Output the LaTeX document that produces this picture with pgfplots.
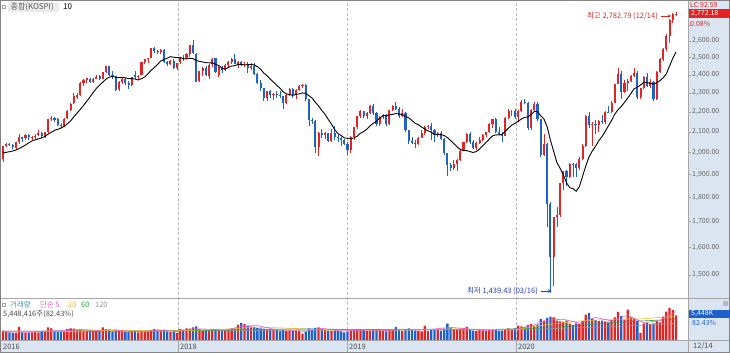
\documentclass[border=0pt]{standalone}
\usepackage{pgfplots}
\pgfplotsset{compat=1.18}
\usepackage{pgfplotstable}
\usepackage{fontspec}
\setmainfont{Noto Sans CJK KR}
\usetikzlibrary{arrows.meta}

\definecolor{upred}{RGB}{226,36,36}
\definecolor{dnblue}{RGB}{30,96,204}
\definecolor{stripbg}{RGB}{219,229,241}
\definecolor{framec}{RGB}{165,165,165}
\definecolor{hiRed}{RGB}{214,40,40}
\definecolor{loBlue}{RGB}{40,60,200}
\definecolor{volteal}{RGB}{50,160,175}
\definecolor{maf}{RGB}{225,95,200}
\definecolor{mat}{RGB}{232,188,40}
\definecolor{mas}{RGB}{50,160,70}
\definecolor{mah}{RGB}{150,150,150}

% weekly KOSPI: open high low close volume(million shares) 10-week MA
\pgfplotstableread{
o h l c v ma
1971 2032 1958 2031 2100 1998
2031 2045 2025 2042 1900 2001
2042 2047 2030 2035 1700 2004
2035 2040 2015 2026 1600 2007
2022 2050 2015 2049 1600 2012
2050 2088 2040 2076 2900 2019
2073 2075 2052 2065 1700 2027
2068 2090 2060 2083 1600 2036
2083 2088 2060 2073 1600 2046
2070 2080 2058 2075 1700 2055.5
2077 2090 2065 2080 1800 2060.4
2082 2108 2078 2094 1700 2065.6
2094 2098 2068 2078 1800 2069.9
2076 2100 2070 2097 1900 2077.0
2098 2166 2095 2164 2800 2088.5
2165 2178 2155 2168 2600 2097.7
2168 2172 2150 2160 2000 2107.2
2162 2170 2130 2133 1900 2112.2
2135 2145 2120 2134 1800 2118.3
2130 2170 2125 2165 1900 2127.3
2170 2210 2165 2205 2400 2139.8
2210 2245 2205 2241 2600 2154.5
2245 2300 2240 2286 2500 2175.3
2280 2300 2270 2288 2200 2194.4
2290 2360 2285 2355 2300 2213.5
2355 2375 2340 2371 2100 2233.8
2370 2382 2355 2381 2100 2255.9
2378 2385 2355 2361 2200 2278.7
2362 2383 2355 2378 2000 2303.1
2380 2402 2375 2391 2100 2325.7
2392 2400 2370 2379 2000 2343.1
2380 2415 2378 2414 2800 2360.4
2416 2452 2410 2450 2400 2376.8
2452 2453 2395 2400 2300 2388.0
2400 2420 2380 2395 1900 2392.0
2394 2397 2310 2319 2300 2386.8
2320 2365 2310 2358 2100 2384.5
2358 2385 2350 2378 1900 2386.2
2380 2385 2345 2357 1800 2384.1
2355 2365 2320 2343 1800 2379.3
2345 2390 2340 2386 1900 2380.0
2400 2425 2380 2388 2000 2377.4
2390 2400 2370 2394 1700 2371.8
2400 2475 2398 2473 1900 2379.1
2475 2490 2460 2489 1800 2388.5
2490 2500 2470 2496 1900 2406.2
2500 2560 2495 2557 2200 2426.1
2557 2561 2530 2542 2400 2442.5
2540 2545 2520 2534 2300 2460.2
2535 2550 2520 2544 2100 2480.3
2545 2550 2470 2475 2300 2489.2
2475 2478 2450 2464 1900 2496.8
2465 2485 2455 2482 1800 2505.6
2482 2490 2435 2440 1900 2502.3
2440 2470 2430 2467 1600 2500.1
2474 2500 2465 2497 2400 2500.2
2500 2515 2480 2496 2300 2494.1
2497 2525 2490 2520 2600 2491.9
2520 2575 2505 2574 2500 2495.9
2575 2607 2520 2525 2800 2494.0
2520 2525 2360 2363 3000 2482.8
2365 2425 2360 2421 2400 2478.5
2420 2445 2395 2440 2000 2474.3
2440 2450 2395 2402 2300 2470.5
2395 2460 2380 2459 2200 2469.7
2460 2495 2445 2494 2400 2469.4
2495 2500 2410 2416 2300 2461.4
2400 2450 2390 2445 2200 2453.9
2445 2450 2410 2429 2100 2439.4
2430 2460 2420 2455 2200 2432.4
2455 2480 2445 2476 2300 2443.7
2476 2495 2460 2492 2400 2450.8
2492 2520 2460 2461 2600 2452.9
2461 2480 2440 2477 3400 2460.4
2477 2480 2450 2460 3800 2460.5
2460 2475 2445 2460 3500 2457.1
2460 2475 2410 2438 3200 2459.3
2440 2470 2430 2451 3000 2459.9
2451 2470 2400 2404 2900 2457.4
2404 2410 2350 2357 2700 2447.6
2357 2370 2310 2326 2600 2432.6
2326 2330 2260 2272 2500 2410.6
2272 2310 2260 2310 2400 2395.5
2310 2315 2275 2289 2300 2376.7
2289 2300 2265 2294 2200 2360.1
2294 2310 2275 2287 2300 2342.8
2287 2310 2275 2282 2100 2327.2
2282 2285 2218 2248 2200 2306.9
2248 2295 2240 2290 2000 2295.5
2290 2325 2285 2322 2100 2292.0
2322 2330 2275 2287 2000 2288.1
2287 2320 2270 2318 2100 2292.7
2318 2345 2310 2339 2000 2295.6
2339 2350 2330 2343 1400 2301.0
2343 2350 2260 2267 1900 2298.3
2267 2270 2130 2161 2600 2285.7
2161 2170 2140 2156 2500 2273.1
2156 2160 2000 2027 2700 2251.0
2027 2100 1985 2096 2800 2231.6
2096 2115 2070 2086 2400 2208.0
2086 2100 2065 2092 2200 2188.5
2092 2095 2050 2057 2100 2162.4
2057 2115 2050 2096 2000 2138.1
2096 2130 2060 2075 2100 2111.3
2075 2085 2050 2069 2000 2091.5
2069 2075 2030 2061 1900 2081.5
2061 2065 2035 2041 1700 2070.0
2041 2050 1990 2010 1900 2068.3
2010 2080 2000 2075 2100 2066.2
2075 2125 2060 2124 2200 2070.0
2124 2180 2115 2177 2300 2078.5
2177 2210 2170 2203 2400 2093.1
2203 2205 2170 2177 2200 2101.2
2177 2200 2165 2196 2000 2113.3
2196 2235 2190 2230 2100 2129.4
2230 2240 2185 2195 2300 2142.8
2195 2200 2130 2137 2100 2152.4
2137 2180 2130 2176 2200 2169.0
2176 2190 2165 2186 2000 2180.1
2186 2190 2130 2140 1900 2181.7
2140 2210 2135 2209 2300 2184.9
2209 2235 2205 2233 2200 2187.9
2233 2250 2210 2216 2900 2191.8
2216 2225 2170 2179 2200 2190.1
2179 2215 2175 2196 2000 2186.7
2196 2200 2100 2108 2400 2178.0
2108 2110 2040 2055 2600 2169.8
2055 2075 2040 2045 2300 2156.7
2045 2060 2020 2041 2100 2142.2
2041 2075 2035 2072 2000 2135.4
2072 2110 2070 2095 1900 2124.0
2095 2130 2085 2125 3100 2113.2
2125 2135 2115 2130 2000 2104.6
2130 2145 2060 2110 2200 2097.7
2110 2115 2050 2086 2300 2086.7
2086 2100 2075 2094 2400 2085.3
2094 2105 2060 2066 2100 2086.4
2066 2070 1990 1998 2500 2081.7
1998 2000 1891 1943 3600 2071.9
1943 1950 1915 1927 2700 2057.4
1927 1965 1920 1948 2400 2042.7
1948 1970 1915 1967 2300 2026.9
1967 2010 1960 2009 2500 2014.8
2009 2050 2005 2049 2600 2008.7
2049 2095 2045 2091 2900 2009.2
2091 2100 2040 2049 2400 2004.7
2049 2060 2015 2021 2100 2000.2
2021 2050 2010 2044 2000 2004.8
2044 2075 2040 2060 2200 2016.5
2060 2090 2055 2083 2100 2032.1
2083 2100 2075 2100 2000 2047.3
2100 2145 2095 2137 2300 2064.3
2137 2165 2120 2162 2400 2079.6
2162 2170 2095 2101 2200 2084.8
2101 2125 2085 2087 2100 2084.4
2087 2100 2050 2081 2100 2087.6
2081 2172 2078 2170 2400 2102.5
2170 2215 2165 2204 2600 2118.5
2204 2210 2180 2204 2300 2132.9
2204 2215 2165 2176 2600 2142.2
2176 2210 2150 2206 3200 2152.8
2206 2265 2200 2250 3000 2164.1
2250 2268 2240 2246 2800 2172.5
2246 2250 2110 2119 3300 2174.3
2119 2215 2110 2211 3500 2186.7
2211 2250 2200 2243 3100 2202.9
2243 2250 2155 2162 3400 2202.1
2162 2165 1980 1987 4600 2180.4
1987 2090 1985 2040 4300 2164.0
2040 2045 1680 1771 4900 2123.5
1771 1780 1439 1566 5200 2059.5
1566 1720 1460 1717 5000 2006.2
1717 1760 1680 1725 4300 1954.1
1725 1860 1720 1860 4100 1928.2
1860 1915 1830 1914 4000 1898.5
1914 1920 1850 1889 4300 1863.1
1889 1950 1885 1948 3600 1841.7
1948 1950 1890 1945 3300 1837.5
1945 1950 1890 1927 3700 1826.2
1927 1980 1920 1970 3500 1846.1
1970 2040 1965 2029 4200 1892.4
2029 2185 2025 2181 5600 1938.8
2181 2200 2120 2132 6000 1979.5
2132 2150 2030 2141 4800 2007.6
2141 2160 2090 2134 4400 2029.6
2134 2160 2100 2152 4200 2055.9
2152 2185 2140 2150 4300 2076.1
2150 2205 2140 2201 4100 2101.7
2201 2230 2195 2200 3900 2129.0
2200 2255 2195 2249 4400 2156.9
2249 2352 2245 2351 5000 2189.1
2351 2440 2350 2407 6200 2211.7
2407 2420 2270 2304 5300 2228.9
2304 2370 2300 2353 4500 2250.1
2353 2375 2310 2368 6700 2273.5
2368 2400 2360 2396 5000 2297.9
2396 2440 2390 2412 4700 2324.1
2412 2420 2270 2278 4300 2331.8
2278 2330 2270 2327 1600 2344.5
2327 2395 2320 2391 3700 2358.7
2391 2410 2335 2341 3800 2357.7
2341 2375 2330 2360 3500 2353.0
2360 2365 2260 2267 3700 2349.3
2267 2420 2265 2416 4200 2355.6
2416 2495 2410 2493 3900 2368.1
2493 2555 2480 2553 5200 2383.8
2553 2640 2540 2633 6300 2405.9
2633 2735 2590 2731 7100 2451.2
2731 2775 2715 2770 6609 2495.5
2768 2783 2755 2772 5448 2533.6
}\kospi

\def\wickup{}\def\wickdn{}\def\bodyup{}\def\bodydn{}\def\volup{}\def\voldn{}%
\pgfplotsforeachungrouped \i in {0,...,209}{%
  \pgfplotstablegetelem{\i}{o}\of\kospi\let\cO\pgfplotsretval
  \pgfplotstablegetelem{\i}{h}\of\kospi\let\cH\pgfplotsretval
  \pgfplotstablegetelem{\i}{l}\of\kospi\let\cL\pgfplotsretval
  \pgfplotstablegetelem{\i}{c}\of\kospi\let\cC\pgfplotsretval
  \pgfplotstablegetelem{\i}{v}\of\kospi\let\cV\pgfplotsretval
  \pgfmathtruncatemacro\isdn{\cC<\cO}%
  \ifnum\isdn=1
    \xdef\wickdn{\wickdn (\i,\cL) (\i,\cH) (\i,nan)}%
    \xdef\bodydn{\bodydn (\i,\cO) (\i,\cC) (\i,nan)}%
    \xdef\voldn{\voldn (\i,\cV)}%
  \else
    \xdef\wickup{\wickup (\i,\cL) (\i,\cH) (\i,nan)}%
    \xdef\bodyup{\bodyup (\i,\cO) (\i,\cC) (\i,nan)}%
    \xdef\volup{\volup (\i,\cV)}%
  \fi
}%

\pgfplotsset{
  wickup/.style={upred, line width=0.7bp, mark=none, unbounded coords=jump},
  wickdn/.style={dnblue, line width=0.7bp, mark=none, unbounded coords=jump},
  bodyup/.style={upred, line width=2.1bp, mark=none, unbounded coords=jump},
  bodydn/.style={dnblue, line width=2.1bp, mark=none, unbounded coords=jump},
  volup/.style={ybar, bar width=2.3bp, bar shift=0pt, fill=upred, draw=none},
  voldn/.style={ybar, bar width=2.3bp, bar shift=0pt, fill=dnblue, draw=none},
}
\edef\plotcandles{%
  \noexpand\addplot[wickup] coordinates {\wickup};%
  \noexpand\addplot[wickdn] coordinates {\wickdn};%
  \noexpand\addplot[bodyup] coordinates {\bodyup};%
  \noexpand\addplot[bodydn] coordinates {\bodydn};%
}
\edef\plotvolumes{%
  \noexpand\addplot[volup] coordinates {\volup};%
  \noexpand\addplot[voldn] coordinates {\voldn};%
}

\begin{document}
\begin{tikzpicture}
\useasboundingbox (0,0) rectangle (730bp,353bp);
\fill[white] (0,0) rectangle (730bp,353bp);
\fill[stripbg] (688bp,13bp) rectangle (730bp,353bp);
\fill[stripbg] (0,0) rectangle (730bp,13bp);
\foreach \xx in {178,347,516} {\draw[gray!55, densely dashed, line width=0.5bp] (\xx bp,13bp) -- (\xx bp,353bp);}

\begin{axis}[
  at={(0bp,55bp)}, anchor=south west, scale only axis,
  width=688bp, height=298bp,
  xmin=-0.93, xmax=212.73,
  ymode=log, ymin=1421, ymax=2863,
  axis line style={draw=none},
  xtick=\empty,
  ytick={1500,1600,1700,1800,1900,2000,2100,2200,2300,2400,2500,2600,2700},
  yticklabels={{1,500.00},{1,600.00},{1,700.00},{1,800.00},{1,900.00},{2,000.00},{2,100.00},{2,200.00},{2,300.00},{2,400.00},{2,500.00},{2,600.00},{}},
  yminorticks=false,
  ytick pos=right, yticklabel pos=right,
  tick align=outside, major tick length=3bp,
  ytick style={draw=gray!70, line width=0.5bp},
  yticklabel style={font=\fontsize{7}{8}\selectfont, text=black!60, inner sep=0pt, xshift=1bp},
]
\plotcandles
\addplot[black, line width=0.9bp, mark=none] table[x expr=\coordindex, y=ma] {\kospi};
\end{axis}

\begin{axis}[
  at={(0bp,13bp)}, anchor=south west, scale only axis,
  width=688bp, height=42bp,
  xmin=-0.93, xmax=212.73, ymin=0, ymax=9300,
  axis line style={draw=none}, xtick=\empty, ytick=\empty,
]
\plotvolumes
\addplot[mah, line width=0.6bp, mark=none] coordinates {(0,2000) (60,2050) (120,2350) (160,2300) (190,2950) (209,3700)};
\addplot[mas, line width=0.6bp, mark=none] coordinates {(0,1900) (30,1950) (60,2100) (90,2450) (120,2300) (150,2300) (170,2700) (190,3900) (209,4600)};
\addplot[mat, line width=0.6bp, mark=none] coordinates {(0,1850) (19,1850) (29,2100) (39,2100) (49,2000) (59,2150) (69,2400) (79,2850) (89,2600) (99,2200) (109,2200) (119,2150) (129,2250) (139,2450) (149,2350) (159,2250) (169,3400) (179,4200) (189,4600) (199,4700) (209,5300)};
\addplot[maf, line width=0.6bp, mark=none] coordinates {(0,1800) (4,1750) (9,1700) (14,2000) (19,2050) (24,2350) (29,2150) (34,2250) (39,1950) (44,1850) (49,2200) (54,1850) (59,2500) (64,2400) (69,2200) (74,3000) (79,3200) (84,2400) (89,2150) (94,1900) (99,2600) (104,2050) (109,2100) (114,2200) (119,2100) (124,2300) (129,2200) (134,2450) (139,2800) (144,2500) (149,2100) (154,2250) (159,2400) (164,3100) (169,4400) (174,4600) (179,3700) (184,5000) (189,4200) (194,5500) (199,3800) (204,4300) (209,6300)};
\end{axis}

% frame lines
\draw[framec, line width=0.5bp] (0,55bp) -- (730bp,55bp);
\draw[framec, line width=0.5bp] (0,13bp) -- (730bp,13bp);
\draw[framec, line width=0.5bp] (688bp,0) -- (688bp,353bp);
\foreach \xx in {178,347,516} {\draw[framec, line width=0.4bp] (\xx bp,0) -- (\xx bp,13bp);}
\draw[framec!80!black, line width=1bp] (0.5bp,0.5bp) rectangle (729.5bp,352.5bp);

% top-left legend
\fill[gray!15] (8bp,341bp) rectangle (59bp,351bp);
\draw[gray!70, line width=0.4bp] (2.3bp,344.3bp) rectangle (5.5bp,347.5bp);
\node[anchor=west, inner sep=0pt, font=\fontsize{8}{9}\selectfont, text=black!65] at (10.5bp,346bp) {종합(KOSPI)};
\node[anchor=west, inner sep=0pt, font=\fontsize{8}{9}\selectfont, text=black] at (63bp,346bp) {10};

% high / low annotations
\node[anchor=east, inner sep=0pt, font=\fontsize{7.5}{8}\selectfont, text=hiRed] at (658bp,337bp) {최고 2,782.79 (12/14)};
\draw[hiRed, line width=0.6bp, -{Stealth[length=3bp,width=3.5bp]}] (661bp,337bp) -- (671bp,337bp);
\node[anchor=east, inner sep=0pt, font=\fontsize{7.5}{8}\selectfont, text=loBlue] at (538bp,62bp) {최저 1,439.43 (03/16)};
\draw[loBlue, line width=0.6bp, -{Stealth[length=3bp,width=3.5bp]}] (541bp,62bp) -- (551bp,62bp);

% right strip top labels
\node[anchor=west, inner sep=0pt, font=\fontsize{7}{8}\selectfont, text=hiRed] at (690bp,348bp) {LC:92.59};
\fill[upred] (689bp,334.5bp) rectangle (729.5bp,343.5bp);
\node[anchor=west, inner sep=0pt, font=\fontsize{7}{8}\selectfont, text=white] at (691bp,339bp) {2,772.18};
\node[anchor=west, inner sep=0pt, font=\fontsize{7}{8}\selectfont, text=hiRed] at (690bp,329.5bp) {0.08\%};

% volume legend
\draw[gray!70, line width=0.4bp] (2.5bp,46.5bp) rectangle (5.5bp,49.5bp);
\node[anchor=west, inner sep=0pt, font=\fontsize{7.5}{8}\selectfont, text=volteal] at (10bp,48bp) {거래량};
\node[anchor=west, inner sep=0pt, font=\fontsize{7.5}{8}\selectfont, text=maf] at (40bp,48bp) {단순 5};
\node[anchor=west, inner sep=0pt, font=\fontsize{7.5}{8}\selectfont, text=mat] at (68bp,48bp) {20};
\node[anchor=west, inner sep=0pt, font=\fontsize{7.5}{8}\selectfont, text=mas] at (81bp,48bp) {60};
\node[anchor=west, inner sep=0pt, font=\fontsize{7.5}{8}\selectfont, text=mah] at (95bp,48bp) {120};
\node[anchor=west, inner sep=0pt, font=\fontsize{7.5}{8}\selectfont, text=black!70] at (3bp,39bp) {5,448,416주(82.43\%)};

% volume right strip
\fill[gray!55] (723bp,47bp) rectangle (727.5bp,51.5bp);
\fill[dnblue] (689bp,35bp) rectangle (729.5bp,43bp);
\node[anchor=west, inner sep=0pt, font=\fontsize{7}{8}\selectfont, text=white] at (691bp,39bp) {5,448K};
\node[anchor=west, inner sep=0pt, font=\fontsize{7}{8}\selectfont, text=dnblue] at (692bp,30.5bp) {82.43\%};

% date strip
\node[anchor=west, inner sep=0pt, font=\fontsize{7.5}{8}\selectfont, text=black!70] at (3bp,6.5bp) {2016};
\node[anchor=west, inner sep=0pt, font=\fontsize{7.5}{8}\selectfont, text=black!70] at (180bp,6.5bp) {2018};
\node[anchor=west, inner sep=0pt, font=\fontsize{7.5}{8}\selectfont, text=black!70] at (349bp,6.5bp) {2019};
\node[anchor=west, inner sep=0pt, font=\fontsize{7.5}{8}\selectfont, text=black!70] at (518bp,6.5bp) {2020};
\node[anchor=west, inner sep=0pt, font=\fontsize{7.5}{8}\selectfont, text=black!70] at (693bp,6.5bp) {12/14};
\end{tikzpicture}
\end{document}
